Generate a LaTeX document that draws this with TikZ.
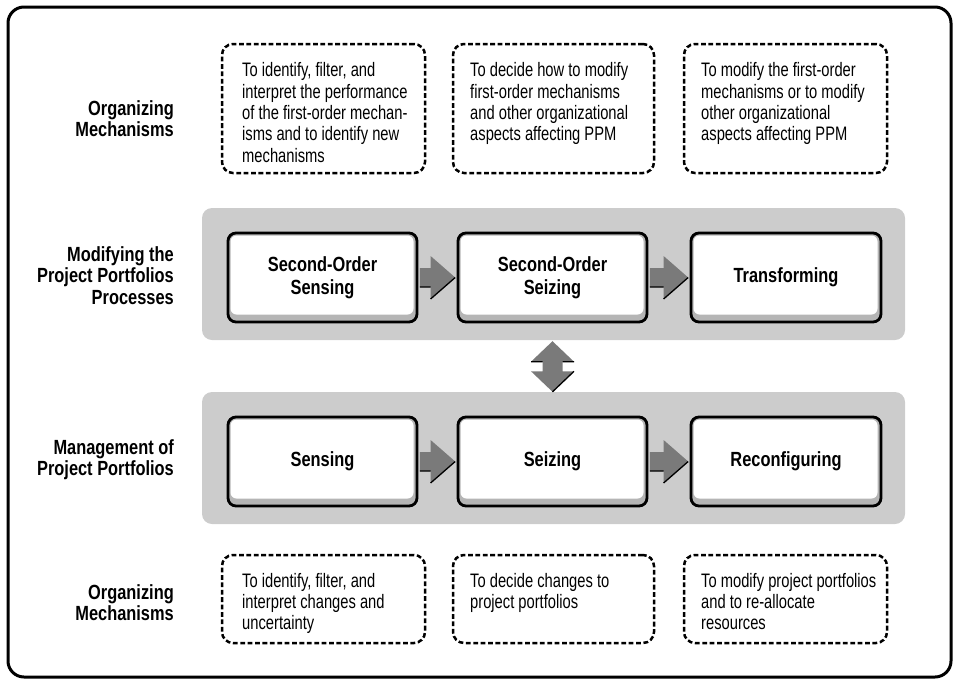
\documentclass[tikz,border=0pt]{standalone}
\usepackage{fontspec}
\setmainfont{Liberation Sans}[FakeStretch=0.755]
\newfontfamily\headfont{Liberation Sans Bold}[FakeStretch=0.80]
\usetikzlibrary{calc}

\definecolor{bandgrey}{HTML}{CCCCCC}
\definecolor{arrowgrey}{HTML}{7A7A7A}
\definecolor{bevelgrey}{HTML}{B5B5B5}

\tikzset{
  frame/.style={draw=black, line width=3pt, rounded corners=16pt},
  band/.style={fill=bandgrey, rounded corners=10pt, minimum width=703pt,
    minimum height=132pt, inner sep=0pt},
  procbox/.style={draw=black, line width=2.8pt, rounded corners=8pt,
    fill=bevelgrey, minimum height=89pt, inner sep=0pt, align=center,
    font=\headfont\fontsize{20.5}{22.5}\selectfont,
    path picture={\fill[white, rounded corners=6pt]
      ([xshift=2.5pt,yshift=-2.5pt]path picture bounding box.north west) rectangle
      ([xshift=-3.5pt,yshift=7.5pt]path picture bounding box.south east);}},
  dbox/.style={draw=black, line width=2.5pt, dash pattern=on 4.8pt off 2.6pt,
    rounded corners=11pt, inner sep=0pt},
  lbl/.style={inner sep=0pt, anchor=base east,
    font=\headfont\fontsize{20.5}{21.5}\selectfont},
  desc/.style={inner sep=0pt, anchor=base west,
    font=\fontsize{19.5}{21.4}\selectfont},
  shade/.style={draw=black, line width=1.3pt},
}

% grey block arrow from the east side of one node to the west side of another
\newcommand\flowarrow[2]{%
  \fill[arrowgrey] let \p1=(#1.east), \p2=(#2.west) in
    (\x1+1.4pt,\y1+9.5pt) -- (\x2-26pt,\y1+9.5pt) -- (\x2-26pt,\y1+21.5pt)
    -- (\x2-1.4pt,\y1) -- (\x2-26pt,\y1-21.5pt) -- (\x2-26pt,\y1-9.5pt)
    -- (\x1+1.4pt,\y1-9.5pt) -- cycle;
  \draw[shade] let \p1=(#1.east), \p2=(#2.west) in
    (\x1+1.4pt,\y1-9.5pt) -- (\x2-26pt,\y1-9.5pt)
    (\x2-26pt,\y1-21.5pt) -- (\x2-1.4pt,\y1);
}

\begin{document}
\begin{tikzpicture}[x=1pt,y=-1pt]
\useasboundingbox (0,0) rectangle (959,683);

\draw[frame] (8,7) rectangle (951,677);

% upper organizing mechanisms
\node[lbl] (om1) at (174,115) {\begin{tabular}[t]{@{}r@{}}Organizing\\Mechanisms\end{tabular}};
\node[dbox, minimum width=203pt, minimum height=129pt] (m1) at (323.5,108.5) {};
\node[dbox, minimum width=201pt, minimum height=129pt] (m2) at (553.5,108.5) {};
\node[dbox, minimum width=203pt, minimum height=129pt] (m3) at (785.5,108.5) {};
\node[desc] (t1) at (242,76.7) {\begin{tabular}[t]{@{}l@{}}To identify, filter, and\\interpret the performance\\of the first-order mechan-\\isms and to identify new\\mechanisms\end{tabular}};
\node[desc] (t2) at (470,76.7) {\begin{tabular}[t]{@{}l@{}}To decide how to modify\\first-order mechanisms\\and other organizational\\aspects affecting PPM\end{tabular}};
\node[desc] (t3) at (701,76.7) {\begin{tabular}[t]{@{}l@{}}To modify the first-order\\mechanisms or to modify\\other organizational\\aspects affecting PPM\end{tabular}};

% second-order processes
\node[lbl] (mp) at (174,261) {\begin{tabular}[t]{@{}r@{}}Modifying the\\Project Portfolios\\Processes\end{tabular}};
\node[band] (b1) at (553.5,274) {};
\node[procbox, minimum width=189pt] (sse) at (322.5,277.5) {Second-Order\\Sensing};
\node[procbox, minimum width=189pt] (ssz) at (552.5,277.5) {Second-Order\\Seizing};
\node[procbox, minimum width=190pt] (tr) at (786,277.5) {Transforming};
\flowarrow{sse}{ssz}
\flowarrow{ssz}{tr}

% first-order processes
\node[lbl] (mg) at (174,454) {\begin{tabular}[t]{@{}r@{}}Management of\\Project Portfolios\end{tabular}};
\node[band] (b2) at (553.5,458) {};
\node[procbox, minimum width=189pt] (se) at (322.5,461.5) {Sensing};
\node[procbox, minimum width=189pt] (sz) at (552.5,461.5) {Seizing};
\node[procbox, minimum width=190pt] (rc) at (786,461.5) {Reconfiguring};
\flowarrow{se}{sz}
\flowarrow{sz}{rc}

% two-way arrow linking the two levels
\fill[arrowgrey] let \p1=(b1.south), \p2=(b2.north), \p3=(sz.center) in
  (\x3,\y1-1pt) -- (\x3+21.5pt,\y1-21.5pt) -- (\x3+10pt,\y1-21.5pt)
  -- (\x3+10pt,\y2+20.5pt) -- (\x3+21.5pt,\y2+20.5pt) -- (\x3,\y2)
  -- (\x3-21.5pt,\y2+20.5pt) -- (\x3-10pt,\y2+20.5pt) -- (\x3-10pt,\y1-21.5pt)
  -- (\x3-21.5pt,\y1-21.5pt) -- cycle;
\draw[shade] let \p1=(b1.south), \p2=(b2.north), \p3=(sz.center) in
  (\x3-21.5pt,\y1-21.5pt) -- (\x3-10pt,\y1-21.5pt)
  (\x3+10pt,\y1-21.5pt) -- (\x3+21.5pt,\y1-21.5pt)
  (\x3+21.5pt,\y2+20.5pt) -- (\x3,\y2);

% lower organizing mechanisms
\node[lbl] (om2) at (174,599) {\begin{tabular}[t]{@{}r@{}}Organizing\\Mechanisms\end{tabular}};
\node[dbox, minimum width=203pt, minimum height=88pt] (n1) at (323.5,599) {};
\node[dbox, minimum width=201pt, minimum height=88pt] (n2) at (553.5,599) {};
\node[dbox, minimum width=203pt, minimum height=88pt] (n3) at (785.5,599) {};
\node[desc] (u1) at (242,587) {\begin{tabular}[t]{@{}l@{}}To identify, filter, and\\interpret changes and\\uncertainty\end{tabular}};
\node[desc] (u2) at (470,587) {\begin{tabular}[t]{@{}l@{}}To decide changes to\\project portfolios\end{tabular}};
\node[desc] (u3) at (701,587) {\begin{tabular}[t]{@{}l@{}}To modify project portfolios\\and to re-allocate\\resources\end{tabular}};
\end{tikzpicture}
\end{document}
